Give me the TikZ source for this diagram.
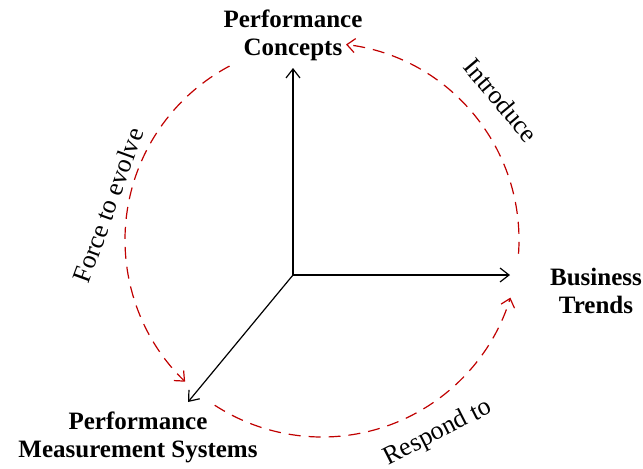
\documentclass[tikz,border=0pt]{standalone}
\usepackage{fontspec}
\setmainfont{Liberation Serif}
\usepackage{tikz}
\usetikzlibrary{arrows.meta,calc}
\definecolor{loopred}{RGB}{192,0,0}

\begin{document}
\begin{tikzpicture}[x=0.5pt,y=0.5pt,
  axis/.style={black, line width=0.6pt, -{Straight Barb[length=4.5pt,width=7pt]}},
  flow/.style={loopred, line width=0.6pt, dash pattern=on 6pt off 4pt, -{Straight Barb[length=4pt,width=7pt]}},
  dim/.style={font=\fontsize{12.5}{14}\selectfont\bfseries, align=center, inner sep=0pt},
  verb/.style={font=\fontsize{13}{15}\selectfont, inner sep=0pt}]
\useasboundingbox (0,0) rectangle (643,468);
% axes
\coordinate (O) at (293,193);
\coordinate (up) at (293,400);
\coordinate (right) at (510,193);
\coordinate (down) at (188,66);
\draw[axis] (O) -- (up);
\draw[axis] (O) -- (right);
\draw[axis] (O) -- (down);
\node[dim] (concepts) at (293,433) {Performance\\Concepts};
\node[dim] (trends) at (596,177) {Business\\Trends};
\node[dim] (pms) at (138,31) {Performance\\Measurement Systems};
% loop
\coordinate (C) at (322,228);
\draw[flow] ($(C)+(-4:197)$) arc[start angle=-4, end angle=83, radius=197];
\draw[flow] ($(C)+(118:197)$) arc[start angle=118, end angle=226, radius=197];
\draw[flow] ($(C)+(237:197)$) arc[start angle=237, end angle=343, radius=197];
\node[verb, rotate=-50] (introduce) at (501,368) {Introduce};
\node[verb, rotate=70] (evolve) at (108,263) {Force to evolve};
\node[verb, rotate=27] (respond) at (438,35) {Respond to};
\end{tikzpicture}
\end{document}
